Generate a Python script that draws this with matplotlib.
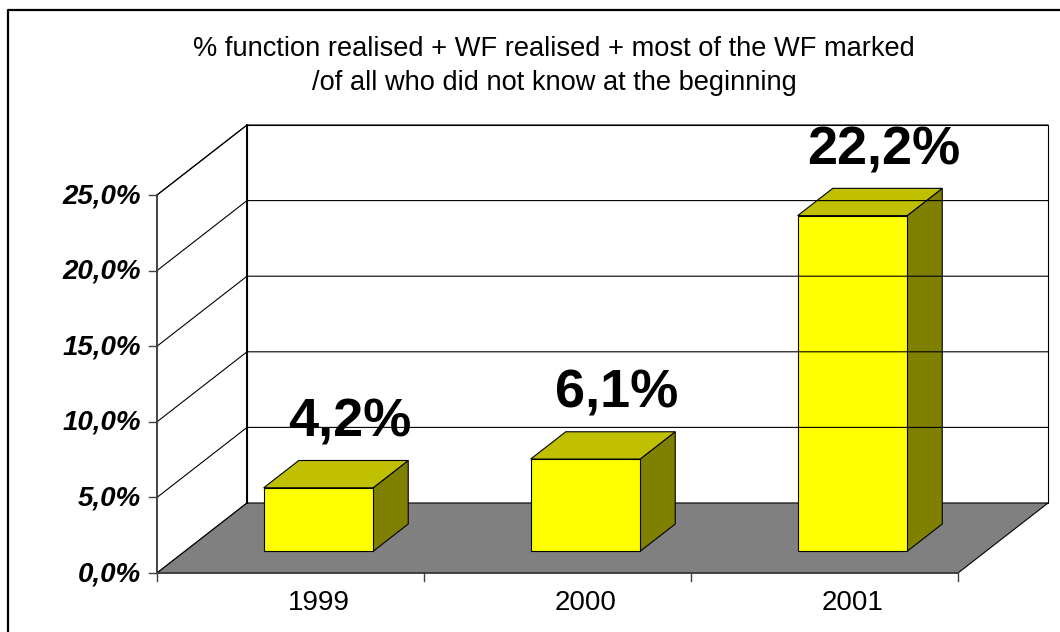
import matplotlib
matplotlib.use("Agg")
import matplotlib.pyplot as plt
from matplotlib.patches import Polygon

years = ["1999", "2000", "2001"]
values = [4.2, 6.1, 22.2]
value_labels = ["4,2%", "6,1%", "22,2%"]
ticks = [0, 5, 10, 15, 20, 25]
tick_labels = ["0,0%", "5,0%", "10,0%", "15,0%", "20,0%", "25,0%"]
title = ("% function realised + WF realised + most of the WF marked\n"
         "/of all who did not know at the beginning")

plt.rcParams['font.family'] = ['Liberation Sans', 'DejaVu Sans']

# fake excel-style 3d: everything in pixel space
X0, Y0 = 157, 573     # front-left corner of floor
CW = 267              # px per category
PY = 15.12            # px per percent
DX, DY = 90, -70      # full depth offset
VMAX = ticks[-1]


def proj(c, v, d):
    return (X0 + c * CW + d * DX, Y0 - v * PY + d * DY)


fig = plt.figure(figsize=(10.6, 6.32), dpi=100)
ax = fig.add_axes([0, 0, 1, 1])
ax.set_xlim(0, 1060)
ax.set_ylim(632, 0)
ax.axis("off")

n = len(years)
lw = 0.8

# walls + floor
left = [proj(0, 0, 0), proj(0, VMAX, 0), proj(0, VMAX, 1), proj(0, 0, 1)]
back = [proj(0, 0, 1), proj(0, VMAX, 1), proj(n, VMAX, 1), proj(n, 0, 1)]
floor = [proj(0, 0, 0), proj(n, 0, 0), proj(n, 0, 1), proj(0, 0, 1)]
ax.add_patch(Polygon(left, closed=True, fc="white", ec="black", lw=lw))
ax.add_patch(Polygon(back, closed=True, fc="white", ec="black", lw=lw))
ax.add_patch(Polygon(floor, closed=True, fc="#808080", ec="black", lw=lw))

# gridlines
for t in ticks[1:]:
    a, b, c = proj(0, t, 0), proj(0, t, 1), proj(n, t, 1)
    ax.plot([a[0], b[0], c[0]], [a[1], b[1], c[1]], color="black", lw=lw)

# back-left corner a bit heavier
p, q = proj(0, 0, 1), proj(0, VMAX, 1)
ax.plot([p[0], q[0]], [p[1], q[1]], color="black", lw=1.4)

# value axis
p, q = proj(0, 0, 0), proj(0, VMAX, 0)
ax.plot([p[0], q[0]], [p[1], q[1]], color="#404040", lw=1.2)
for t, lab in zip(ticks, tick_labels):
    x, y = proj(0, t, 0)
    ax.plot([x - 8, x], [y, y], color="#404040", lw=1.0)
    ax.text(x - 16, y + 1, lab, ha="right", va="center", fontsize=20,
            fontweight="bold", fontstyle="italic")

# category axis
p, q = proj(0, 0, 0), proj(n, 0, 0)
ax.plot([p[0], q[0]], [p[1], q[1]], color="#404040", lw=1.2)
for c in range(n + 1):
    x, y = proj(c, 0, 0)
    ax.plot([x, x], [y, y + 8], color="#404040", lw=1.0)
for i, yr in enumerate(years):
    x, y = proj(i + 0.5, 0, 0)
    ax.text(x + 28, y + 30, yr, ha="center", va="center", fontsize=20)

# bars
w0, w1 = 0.295, 0.705
d0, d1 = 0.31, 0.70
for i, v in enumerate(values):
    c0, c1 = i + w0, i + w1
    front = [proj(c0, 0, d0), proj(c1, 0, d0), proj(c1, v, d0), proj(c0, v, d0)]
    top = [proj(c0, v, d0), proj(c1, v, d0), proj(c1, v, d1), proj(c0, v, d1)]
    side = [proj(c1, 0, d0), proj(c1, 0, d1), proj(c1, v, d1), proj(c1, v, d0)]
    ax.add_patch(Polygon(side, closed=True, fc="#808000", ec="black", lw=lw))
    ax.add_patch(Polygon(top, closed=True, fc="#C0C000", ec="black", lw=lw))
    ax.add_patch(Polygon(front, closed=True, fc="#FFFF00", ec="black", lw=lw))
    x, y = proj(i + 0.5, v, d1)
    ax.text(x - 4, y - 24, value_labels[i], ha="center", va="baseline",
            fontsize=39, fontweight="bold")

# title
ax.text(554, 66, title, ha="center", va="center", fontsize=19.6, linespacing=1.4)

# outer frame (only top and left visible in the crop)
ax.plot([7.5, 7.5, 1200], [800, 9.5, 9.5], color="black", lw=1.6)

fig.savefig("out.png", dpi=100)
